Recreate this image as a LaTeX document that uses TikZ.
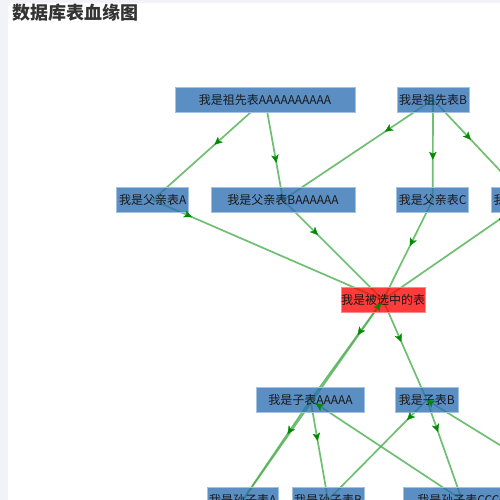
\documentclass[tikz,border=0pt]{standalone}
\usepackage{fontspec}
\setmainfont{Noto Sans CJK SC}
\usetikzlibrary{arrows.meta,decorations.markings}
\definecolor{boxblue}{HTML}{2A6DB2}
\definecolor{boxflat}{HTML}{5B8FC4}
\definecolor{boxborder}{HTML}{A3C2E2}
\definecolor{selred}{HTML}{FF0000}
\definecolor{selborder}{HTML}{FF8A8A}
\definecolor{txt}{HTML}{1A1A1A}
\definecolor{linegreen}{HTML}{4CAF50}
\definecolor{arrowgreen}{HTML}{008A00}
\definecolor{bgstrip}{HTML}{F2F3F8}
\definecolor{titlecol}{HTML}{333333}
\begin{document}
\begin{tikzpicture}[x=1pt,y=-1pt,
  font=\fontsize{12}{14}\selectfont,
  tbl/.style={rectangle, minimum height=25pt, inner sep=0pt, fill=boxblue, fill opacity=0.77, text opacity=1, draw=boxborder, draw opacity=1, line width=0.8pt, text=txt},
  sel/.style={tbl, fill=selred, draw=selborder},
  lnk/.style={draw=linegreen, draw opacity=0.8, line width=1.7pt},
  arr/.style={decorate, decoration={markings, mark=at position #1 with {\arrow[arrowgreen]{Stealth[length=8pt,width=7.5pt,inset=2pt]}}}}]
\useasboundingbox (0,0) rectangle (500,500);
\clip (0,0) rectangle (500,500);
\fill[bgstrip] (0,0) rectangle (500,500);
\fill[white, rounded corners=4pt] (8,3) rectangle (520,520);
\node[anchor=west, inner sep=0pt, text=titlecol, font=\fontsize{18}{20}\selectfont\bfseries] (title) at (12.5,13) {数据库表血缘图};

% node centres
\coordinate (GAc) at (265,99.5);
\coordinate (GBc) at (433,99.5);
\coordinate (FAc) at (152.7,200);
\coordinate (FBc) at (283,200);
\coordinate (FCc) at (432.7,200);
\coordinate (FDc) at (527.7,200);
\coordinate (Sc) at (383,300);
\coordinate (CAc) at (310.5,400);
\coordinate (CBc) at (426.8,400);
\coordinate (GCAc) at (242.8,500);
\coordinate (GCBc) at (328,500);
\coordinate (GCCc) at (462,500);
\coordinate (GCD) at (589,500);

\def\edgelist{GAc/FAc/0.45, GAc/FBc/0.63, GBc/FBc/0.32, GBc/FCc/0.60, GBc/FDc/0.40,
  FAc/Sc/0.17, FBc/Sc/0.35, FCc/Sc/0.46, FDc/Sc/0.20,
  Sc/CAc/0.35, Sc/CBc/0.42, GCAc/Sc/0.985,
  CAc/GCAc/0.34, CAc/GCBc/0.41, GCCc/CAc/0.966,
  CBc/GCBc/0.20, CBc/GCCc/0.32, GCD/CBc/0.999}

% connector lines, seen through the boxes
\foreach \a/\b/\t in \edgelist { \draw[lnk] (\a) -- (\b); }

% tables
\node[tbl, minimum width=180pt, fill=boxflat, fill opacity=1] (GA) at (GAc) {我是祖先表AAAAAAAAAA};
\node[tbl, minimum width=72pt] (GB) at (GBc) {我是祖先表B};
\node[tbl, minimum width=72pt] (FA) at (FAc) {我是父亲表A};
\node[tbl, minimum width=144pt] (FB) at (FBc) {我是父亲表BAAAAAA};
\node[tbl, minimum width=72pt] (FC) at (FCc) {我是父亲表C};
\node[tbl, minimum width=72pt] (FD) at (FDc) {我是父亲表D};
\node[sel, minimum width=84pt] (S) at (Sc) {我是被选中的表};
\node[tbl, minimum width=108pt] (CA) at (CAc) {我是子表AAAAA};
\node[tbl, minimum width=63pt] (CB) at (CBc) {我是子表B};
\node[tbl, minimum width=71pt] (GCA) at (GCAc) {我是孙子表A};
\node[tbl, minimum width=72pt] (GCB) at (GCBc) {我是孙子表B};
\node[tbl, minimum width=118pt] (GCC) at (GCCc) {我是孙子表CCCC};

% arrowheads on top
\foreach \a/\b/\t in \edgelist { \path[arr=\t] (\a) -- (\b); }
\end{tikzpicture}
\end{document}
